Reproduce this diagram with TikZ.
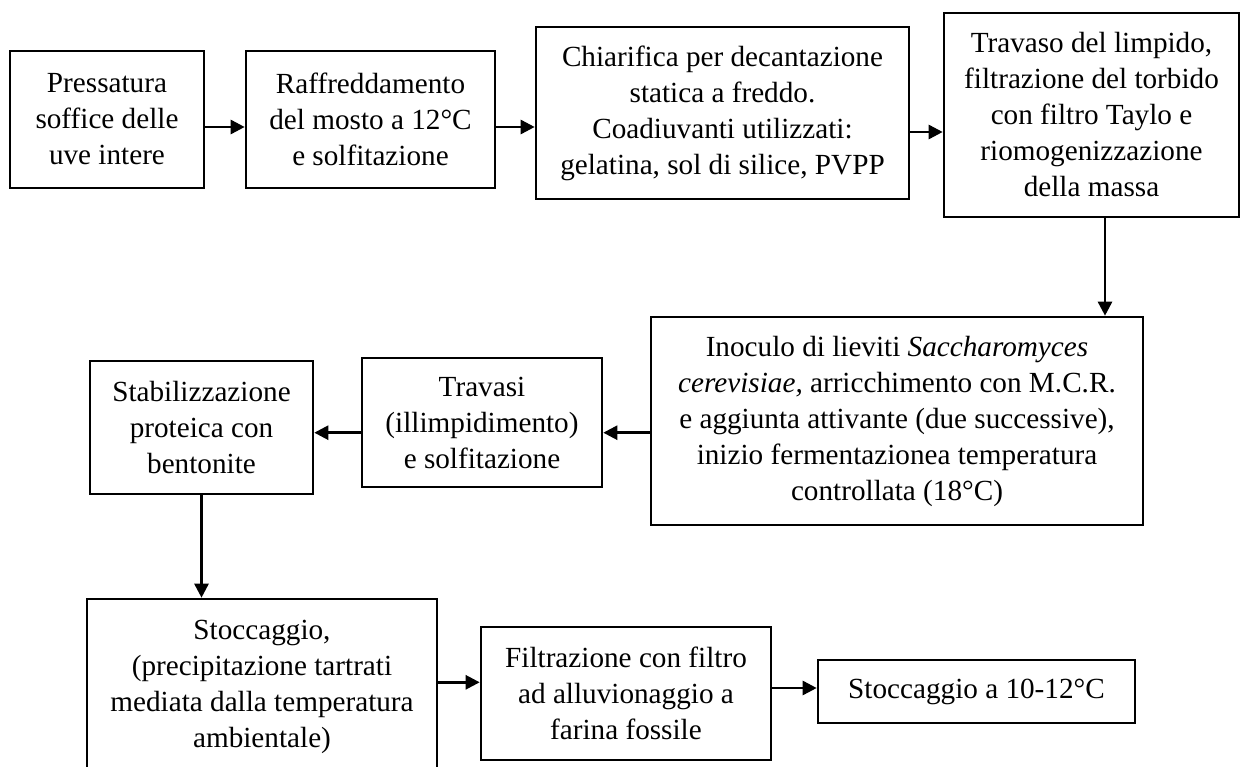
\documentclass[tikz,border=0pt]{standalone}
\usepackage{fontspec}
\setmainfont{Liberation Serif}
\usetikzlibrary{arrows.meta}
\begin{document}
\begin{tikzpicture}[x=1pt,y=-1pt,
  box/.style={draw, line width=2.6pt, align=center, inner sep=0pt,
    font=\fontsize{29.2}{36}\selectfont},
  arr/.style={-{Triangle[length=14pt,width=14pt]}, line width=2.6pt}]
\useasboundingbox (0,0) rectangle (1242,767);
\node[box, minimum width=194pt, minimum height=137pt] (b1) at (107,119.5)
  {Pressatura\\soffice delle\\uve intere};
\node[box, minimum width=249pt, minimum height=137pt] (b2) at (370.5,119.5)
  {Raffreddamento\\del mosto a 12°C\\e solfitazione};
\node[box, minimum width=373pt, minimum height=172pt] (b3) at (722.5,113)
  {Chiarifica per decantazione\\statica a freddo.\\Coadiuvanti utilizzati:\\gelatina, sol di silice, PVPP};
\node[box, minimum width=295pt, minimum height=204pt] (b4) at (1091.5,115)
  {Travaso del limpido,\\filtrazione del torbido\\con filtro Taylo e\\riomogenizzazione\\della massa};
\node[box, minimum width=492pt, minimum height=208pt] (b5) at (897,421)
  {Inoculo di lieviti \textit{Saccharomyces}\\\textit{cerevisiae,} arricchimento con M.C.R.\\e aggiunta attivante (due successive),\\inizio fermentazionea temperatura\\controllata (18°C)};
\node[box, minimum width=240pt, minimum height=129pt] (b6) at (482,422.5)
  {Travasi\\(illimpidimento)\\e solfitazione};
\node[box, minimum width=223pt, minimum height=133pt] (b7) at (201.5,427.5)
  {Stabilizzazione\\proteica con\\bentonite};
\node[box, minimum width=350pt, minimum height=176pt] (b8) at (262,687)
  {Stoccaggio,\\(precipitazione tartrati\\mediata dalla temperatura\\ambientale)};
\node[box, minimum width=290pt, minimum height=133pt] (b9) at (626,693.5)
  {Filtrazione con filtro\\ad alluvionaggio a\\farina fossile};
\node[box, minimum width=317pt, minimum height=63pt] (b10) at (976.5,691.5)
  {Stoccaggio a 10-12°C};
\draw[arr] (b1.east |- 0,127) -- (b2.west |- 0,127);
\draw[arr] (b2.east |- 0,127) -- (b3.west |- 0,127);
\draw[arr] (b3.east |- 0,132) -- (b4.west |- 0,132);
\draw[arr] (b4.south -| 1105,0) -- (b5.north -| 1105,0);
\draw[arr] (b5.west |- 0,432.7) -- (b6.east |- 0,432.7);
\draw[arr] (b6.west |- 0,432.7) -- (b7.east |- 0,432.7);
\draw[arr] (b7.south) -- (b7.south |- b8.north);
\draw[arr] (b8.east |- 0,682.3) -- (b9.west |- 0,682.3);
\draw[arr] (b9.east |- 0,688) -- (b10.west |- 0,688);
\end{tikzpicture}
\end{document}
